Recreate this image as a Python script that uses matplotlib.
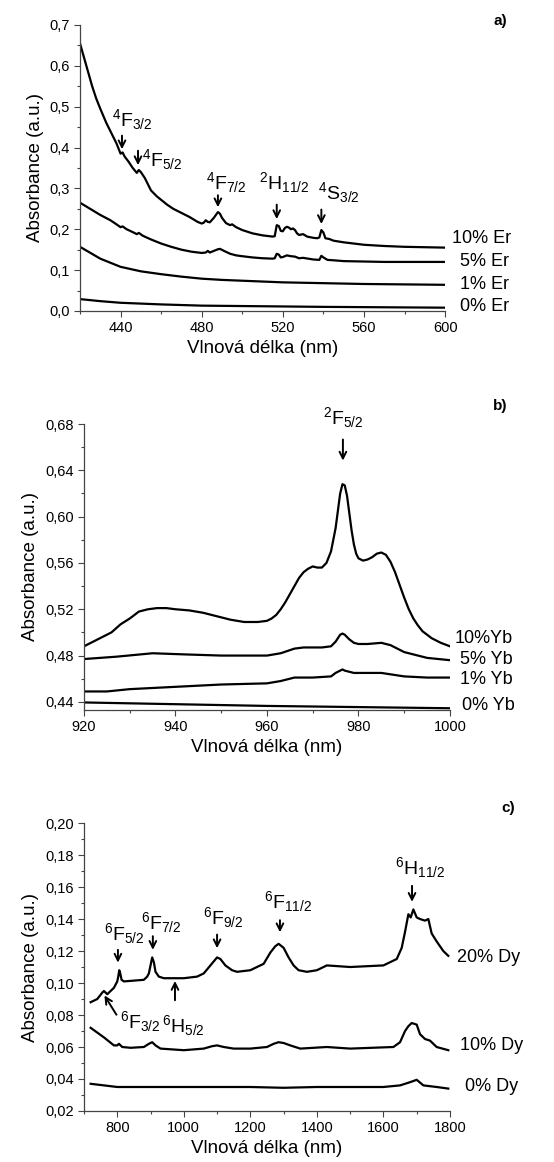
import matplotlib.pyplot as plt
import matplotlib.transforms as mtransforms

plt.rcParams['font.family'] = ['Liberation Sans', 'DejaVu Sans']
plt.rcParams['mathtext.default'] = 'regular'

# ---- panel a: Er ----
er10_x = [420, 422, 424, 426, 428, 430, 433, 436, 438, 440, 441, 442, 444, 446, 448, 449, 450, 452, 455,
          458, 460, 463, 466, 470, 474, 478, 480, 481, 482, 483, 484, 486, 487, 488, 489, 490, 492, 494,
          495, 497, 500, 505, 510, 515, 516, 517, 518, 519, 520, 521, 522, 523, 524, 525, 526, 527, 528,
          530, 532, 535, 537, 538, 539, 540, 541, 543, 545, 550, 555, 560, 570, 580, 590, 600]
er10_y = [0.655, 0.62, 0.585, 0.55, 0.52, 0.495, 0.46, 0.43, 0.41, 0.385, 0.388, 0.378, 0.365, 0.35,
          0.338, 0.345, 0.34, 0.325, 0.295, 0.28, 0.272, 0.26, 0.25, 0.24, 0.23, 0.218, 0.214, 0.216,
          0.222, 0.218, 0.217, 0.228, 0.235, 0.242, 0.238, 0.228, 0.215, 0.21, 0.212, 0.205, 0.198,
          0.19, 0.185, 0.182, 0.183, 0.21, 0.208, 0.196, 0.195, 0.203, 0.206, 0.204, 0.2, 0.202, 0.198,
          0.19, 0.186, 0.188, 0.182, 0.179, 0.178, 0.18, 0.198, 0.192, 0.178, 0.176, 0.172, 0.168,
          0.165, 0.162, 0.159, 0.157, 0.156, 0.155]
er5_x = [420, 425, 430, 435, 438, 440, 441, 443, 446, 448, 449, 451, 455, 460, 465, 470, 475, 480, 482,
         483, 484, 486, 488, 489, 491, 494, 497, 500, 505, 510, 515, 516, 517, 518, 519, 520, 522, 524,
         526, 528, 530, 535, 538, 539, 540, 542, 545, 550, 560, 570, 580, 600]
er5_y = [0.265, 0.25, 0.235, 0.222, 0.212, 0.205, 0.207, 0.2, 0.193, 0.188, 0.191, 0.184, 0.175, 0.165,
         0.157, 0.15, 0.145, 0.142, 0.143, 0.147, 0.143, 0.147, 0.151, 0.152, 0.147, 0.14, 0.136,
         0.134, 0.131, 0.129, 0.128, 0.129, 0.14, 0.138, 0.131, 0.132, 0.136, 0.134, 0.133, 0.129,
         0.13, 0.126, 0.125, 0.135, 0.131, 0.125, 0.124, 0.122, 0.121, 0.12, 0.12, 0.12]
er1_x = [420, 430, 440, 450, 460, 470, 480, 490, 500, 520, 540, 560, 580, 600]
er1_y = [0.157, 0.128, 0.108, 0.097, 0.09, 0.084, 0.079, 0.076, 0.074, 0.07, 0.068, 0.066, 0.065, 0.064]
er0_x = [420, 430, 440, 460, 480, 500, 540, 600]
er0_y = [0.029, 0.024, 0.02, 0.016, 0.013, 0.012, 0.01, 0.008]
er_labels = ['10% Er', '5% Er', '1% Er', '0% Er']

# ---- panel b: Yb ----
yb10_x = [920, 922, 924, 926, 928, 930, 932, 934, 936, 938, 940, 943, 946, 949, 952, 955, 958, 960,
          961, 962, 963, 964, 965, 966, 967, 968, 969, 970, 971, 972, 973, 974, 975, 975.5, 976, 976.5,
          977, 977.5, 978, 978.5, 979, 979.5, 980, 981, 982, 983, 984, 985, 986, 987, 988, 989, 990,
          991, 992, 993, 994, 996, 998, 1000]
yb10_y = [0.488, 0.492, 0.496, 0.500, 0.507, 0.512, 0.518, 0.520, 0.521, 0.521, 0.520, 0.519, 0.517,
          0.514, 0.511, 0.509, 0.509, 0.510, 0.512, 0.515, 0.520, 0.526, 0.533, 0.540, 0.547, 0.552,
          0.555, 0.557, 0.556, 0.556, 0.560, 0.570, 0.590, 0.605, 0.620, 0.628, 0.627, 0.618, 0.603,
          0.588, 0.576, 0.568, 0.564, 0.562, 0.563, 0.565, 0.568, 0.569, 0.567, 0.561, 0.552, 0.541,
          0.530, 0.520, 0.512, 0.506, 0.501, 0.495, 0.491, 0.488]
yb5_x = [920, 927, 935, 942, 950, 960, 963, 966, 968, 970, 972, 974, 975, 976, 976.5, 977, 978, 979,
         980, 982, 985, 987, 990, 995, 1000]
yb5_y = [0.477, 0.479, 0.482, 0.481, 0.480, 0.480, 0.482, 0.486, 0.487, 0.487, 0.487, 0.488, 0.492,
         0.498, 0.499, 0.498, 0.494, 0.491, 0.490, 0.490, 0.491, 0.489, 0.483, 0.478, 0.476]
yb1_x = [920, 925, 930, 940, 950, 960, 963, 966, 970, 974, 975, 976, 976.5, 977, 978, 979, 985, 990,
         995, 1000]
yb1_y = [0.449, 0.449, 0.451, 0.453, 0.455, 0.456, 0.458, 0.461, 0.461, 0.462, 0.465, 0.467, 0.468,
         0.467, 0.466, 0.465, 0.465, 0.462, 0.461, 0.461]
yb0_x = [920, 940, 960, 980, 1000]
yb0_y = [0.4395, 0.438, 0.4365, 0.4355, 0.4345]
yb_labels = ['10%Yb', '5% Yb', '1% Yb', '0% Yb']

# ---- panel c: Dy ----
dy20_x = [720, 740, 755, 760, 770, 790, 800, 803, 806, 809, 813, 820, 850, 880, 890, 895, 900, 905,
          910, 915, 925, 940, 1000, 1040, 1060, 1080, 1100, 1110, 1125, 1145, 1160, 1200, 1240, 1260,
          1275, 1285, 1300, 1315, 1330, 1345, 1370, 1400, 1430, 1500, 1600, 1640, 1655, 1665, 1675,
          1682, 1690, 1700, 1710, 1725, 1735, 1745, 1760, 1780, 1795]
dy20_y = [0.088, 0.09, 0.094, 0.095, 0.093, 0.097, 0.101, 0.104, 0.108, 0.106, 0.102, 0.101, 0.1015,
          0.102, 0.104, 0.106, 0.111, 0.116, 0.113, 0.107, 0.104, 0.103, 0.103, 0.104, 0.106, 0.111,
          0.116, 0.115, 0.111, 0.108, 0.107, 0.108, 0.112, 0.119, 0.123, 0.1245, 0.122, 0.116, 0.111,
          0.108, 0.107, 0.108, 0.111, 0.110, 0.111, 0.115, 0.122, 0.132, 0.143, 0.141, 0.146, 0.141,
          0.14, 0.139, 0.14, 0.131, 0.126, 0.12, 0.117]
dy10_x = [720, 760, 790, 800, 805, 815, 840, 880, 895, 905, 915, 930, 1000, 1060, 1085, 1100, 1120,
          1150, 1200, 1250, 1270, 1285, 1300, 1320, 1350, 1430, 1500, 1630, 1650, 1665, 1675, 1685,
          1700, 1710, 1725, 1740, 1760, 1795]
dy10_y = [0.072, 0.066, 0.061, 0.061, 0.062, 0.06, 0.0595, 0.06, 0.062, 0.063, 0.061, 0.059, 0.058,
          0.059, 0.0605, 0.061, 0.06, 0.059, 0.059, 0.06, 0.062, 0.063, 0.0625, 0.061, 0.059, 0.06,
          0.059, 0.06, 0.063, 0.07, 0.073, 0.075, 0.074, 0.068, 0.065, 0.064, 0.06, 0.058]
dy0_x = [720, 760, 800, 900, 1000, 1200, 1300, 1400, 1600, 1650, 1680, 1700, 1720, 1760, 1795]
dy0_y = [0.037, 0.036, 0.035, 0.035, 0.035, 0.035, 0.0345, 0.035, 0.035, 0.036, 0.038, 0.0395, 0.036,
         0.035, 0.034]
dy_labels = ['20% Dy', '10% Dy', '0% Dy']

# annotations: (text, label x, label y, arrow x, tail y, head y)
er_marks = [(r'$^4F_{3/2}$', 436, 0.468, 440.7, 0.436, 0.389),
            (r'$^4F_{5/2}$', 450.5, 0.37, 448.6, 0.399, 0.35),
            (r'$^4F_{7/2}$', 482, 0.315, 488, 0.29, 0.247),
            (r'$^2H_{11/2}$', 508.5, 0.315, 517, 0.267, 0.218),
            (r'$^4S_{3/2}$', 537.5, 0.29, 539, 0.255, 0.206)]
dy_marks = [(r'$^6F_{5/2}$', 760, 0.131, 802, 0.1225, 0.111),
            (r'$^6F_{7/2}$', 872, 0.138, 907, 0.131, 0.119),
            (r'$^6F_{9/2}$', 1058, 0.141, 1100, 0.132, 0.12),
            (r'$^6F_{11/2}$', 1240, 0.151, 1289, 0.141, 0.13),
            (r'$^6H_{11/2}$', 1636, 0.172, 1686, 0.1625, 0.149)]

fig = plt.figure(figsize=(5.54, 11.62), dpi=100)
ax1 = fig.add_axes([0.1444, 0.7324, 0.659, 0.2461])
ax2 = fig.add_axes([0.1516, 0.389, 0.6606, 0.2461])
ax3 = fig.add_axes([0.1516, 0.0439, 0.6606, 0.2478])

lw = 1.6
fs_mark = 14
arrow = dict(arrowstyle='->', lw=1.4, color='black', mutation_scale=12)


def style(ax):
    for s in ['top', 'right']:
        ax.spines[s].set_visible(False)
    for s in ['left', 'bottom']:
        ax.spines[s].set_color('#444444')
        ax.spines[s].set_linewidth(0.9)
    ax.tick_params(which='major', direction='out', length=4, width=0.8, labelsize=10.5, color='#444444')
    ax.tick_params(which='minor', direction='out', length=2.5, width=0.8, color='#444444')
    ax.set_xlabel('Vlnová délka (nm)', fontsize=13.5, labelpad=3)
    ax.set_ylabel('Absorbance (a.u.)', fontsize=13.5, labelpad=4)


def comma(ax, fmt):
    ax.yaxis.set_major_formatter(plt.FuncFormatter(lambda v, p: (fmt % v).replace('.', ',')))


def side_labels(ax, labels, xs, ys):
    tr = mtransforms.blended_transform_factory(ax.transAxes, ax.transData)
    for t, x, y in zip(labels, xs, ys):
        ax.text(x, y, t, transform=tr, fontsize=13, va='center', ha='left', clip_on=False)


# panel a
for xs, ys in [(er10_x, er10_y), (er5_x, er5_y), (er1_x, er1_y), (er0_x, er0_y)]:
    ax1.plot(xs, ys, color='black', lw=lw)
ax1.set_xlim(420, 600)
ax1.set_ylim(0, 0.7)
ax1.set_xticks([440, 480, 520, 560, 600])
ax1.set_xticks(range(420, 601, 20), minor=True)
ax1.set_yticks([0, 0.1, 0.2, 0.3, 0.4, 0.5, 0.6, 0.7])
ax1.set_yticks([0.05, 0.15, 0.25, 0.35, 0.45, 0.55, 0.65], minor=True)
comma(ax1, '%.1f')
style(ax1)
for t, lx, ly, ax_, y0, y1 in er_marks:
    ax1.annotate('', xy=(ax_, y1), xytext=(ax_, y0), arrowprops=arrow)
    ax1.text(lx, ly, t, fontsize=fs_mark, va='center', ha='left')
side_labels(ax1, er_labels, [1.019, 1.04, 1.04, 1.04], [0.177, 0.12, 0.064, 0.01])
fig.text(0.89, 0.982, 'a)', fontsize=11, fontweight='bold', va='center')

# panel b
for xs, ys in [(yb10_x, yb10_y), (yb5_x, yb5_y), (yb1_x, yb1_y), (yb0_x, yb0_y)]:
    ax2.plot(xs, ys, color='black', lw=lw)
ax2.set_xlim(920, 1000)
ax2.set_ylim(0.433, 0.68)
ax2.set_xticks([920, 940, 960, 980, 1000])
ax2.set_xticks(range(920, 1001, 10), minor=True)
ax2.set_yticks([0.44, 0.48, 0.52, 0.56, 0.60, 0.64, 0.68])
ax2.set_yticks([0.46, 0.50, 0.54, 0.58, 0.62, 0.66], minor=True)
comma(ax2, '%.2f')
style(ax2)
ax2.annotate('', xy=(976.6, 0.646), xytext=(976.6, 0.669), arrowprops=arrow, annotation_clip=False)
ax2.text(976.6, 0.686, r'$^2F_{5/2}$', fontsize=fs_mark, va='center', ha='center', clip_on=False)
side_labels(ax2, yb_labels, [1.014, 1.027, 1.027, 1.032], [0.495, 0.477, 0.459, 0.4365])
fig.text(0.89, 0.651, 'b)', fontsize=11, fontweight='bold', va='center')

# panel c
for xs, ys in [(dy20_x, dy20_y), (dy10_x, dy10_y), (dy0_x, dy0_y)]:
    ax3.plot(xs, ys, color='black', lw=lw)
ax3.set_xlim(700, 1800)
ax3.set_ylim(0.02, 0.20)
ax3.set_xticks([800, 1000, 1200, 1400, 1600, 1800])
ax3.set_xticks(range(700, 1801, 100), minor=True)
ax3.set_yticks([0.02, 0.04, 0.06, 0.08, 0.10, 0.12, 0.14, 0.16, 0.18, 0.20])
ax3.set_yticks([0.03, 0.05, 0.07, 0.09, 0.11, 0.13, 0.15, 0.17, 0.19], minor=True)
comma(ax3, '%.2f')
style(ax3)
for t, lx, ly, ax_, y0, y1 in dy_marks:
    ax3.annotate('', xy=(ax_, y1), xytext=(ax_, y0), arrowprops=arrow)
    ax3.text(lx, ly, t, fontsize=fs_mark, va='center', ha='left')
ax3.annotate('', xy=(757, 0.0937), xytext=(802, 0.0787), arrowprops=arrow)
ax3.text(808, 0.076, r'$^6F_{3/2}$', fontsize=fs_mark, va='center', ha='left')
ax3.annotate('', xy=(973.5, 0.103), xytext=(973.5, 0.0875), arrowprops=arrow)
ax3.text(935, 0.0737, r'$^6H_{5/2}$', fontsize=fs_mark, va='center', ha='left')
side_labels(ax3, dy_labels, [1.019, 1.027, 1.041], [0.116, 0.061, 0.035])
fig.text(0.905, 0.3046, 'c)', fontsize=11, fontweight='bold', va='center')

fig.savefig('out.png', dpi=100)
